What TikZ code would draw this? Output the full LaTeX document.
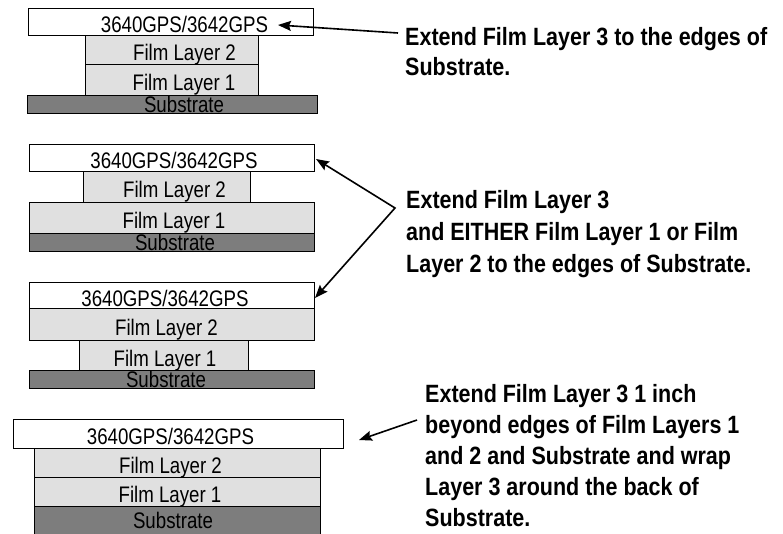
\documentclass[tikz,border=0pt]{standalone}
\usepackage{fontspec}
\usetikzlibrary{arrows.meta}
\newfontfamily\boxfont{Liberation Sans}[FakeStretch=0.83]
\newfontfamily\notefont{Liberation Sans}[FakeStretch=0.86]
\definecolor{subgray}{RGB}{125,125,125}
\definecolor{filmgray}{RGB}{224,224,224}
\tikzset{
  x=1pt, y=-1pt,
  layer/.style={draw=black, line width=0.8pt, inner sep=0pt, outer sep=0pt,
    font=\boxfont\fontsize{22.5}{22.5}\selectfont, text height=22pt, text depth=0pt},
  topbox/.style={layer, fill=white},
  film/.style={layer, fill=filmgray},
  sub/.style={layer, fill=subgray, text height=16pt},
  note/.style={anchor=north west, inner sep=0pt, align=left, font=\notefont\bfseries\fontsize{25}{31}\selectfont},
  arr/.style={line width=1.6pt, -{Stealth[length=13pt, width=10pt, inset=2pt]}},
  darr/.style={line width=1.6pt, {Stealth[length=13pt, width=10pt, inset=2pt]}-{Stealth[length=13pt, width=10pt, inset=2pt]}}
}
% rectangle node from corners: \lay{style}{name}{x1}{y1}{x2}{y2}{text shift}{text}
\newcommand{\lay}[8]{%
  \node[#1, minimum width={#5-#3}, minimum height={#6-#4}] (#2) at ({(#3+#5)/2},{(#4+#6)/2}) {\hspace*{#7pt}\hspace*{#7pt}#8};}
\begin{document}
\begin{tikzpicture}
\useasboundingbox (0,0) rectangle (783,533);
% stack 1
\lay{topbox}{t1}{28}{8}{313}{35}{14}{3640GPS/3642GPS}
\lay{film}{fb1}{85}{35}{258}{64}{13}{Film Layer 2}
\lay{film}{fa1}{85}{64}{258}{95}{12.5}{Film Layer 1}
\lay{sub}{s1}{27}{95}{317}{113}{12}{Substrate}
% stack 2
\lay{topbox}{t2}{29}{144}{314}{171}{2.5}{3640GPS/3642GPS}
\lay{film}{fb2}{83}{171}{250}{202}{8}{Film Layer 2}
\lay{film}{fa2}{29}{202}{314}{233}{2.5}{Film Layer 1}
\lay{sub}{s2}{29}{233}{314}{251}{3.5}{Substrate}
% stack 3
\lay{topbox}{t3}{29}{282}{314}{308}{-6.5}{3640GPS/3642GPS}
\lay{film}{fb3}{29}{308}{314}{340}{-5}{Film Layer 2}
\lay{film}{fa3}{79}{340}{248}{370}{1.5}{Film Layer 1}
\lay{sub}{s3}{29}{370}{314}{388}{-5.5}{Substrate}
% stack 4
\lay{topbox}{t4}{13}{419}{343}{448}{-7.5}{3640GPS/3642GPS}
\lay{film}{fb4}{34}{448}{320}{477}{-6.5}{Film Layer 2}
\lay{film}{fa4}{34}{477}{320}{506}{-7}{Film Layer 1}
\lay{sub}{s4}{34}{506}{320}{535}{-4}{Substrate}
% notes
\node[note, font=\notefont\bfseries\fontsize{25}{30}\selectfont] (n1) at (405,27)
  {Extend Film Layer 3 to the edges of\\Substrate.};
\node[note, font=\notefont\bfseries\fontsize{25}{32}\selectfont] (n2) at (406,190)
  {Extend Film Layer 3\\and EITHER Film Layer 1 or Film\\Layer 2 to the edges of Substrate.};
\node[note] (n3) at (425,384)
  {Extend Film Layer 3 1 inch\\beyond edges of Film Layers 1\\and 2 and Substrate and wrap\\Layer 3 around the back of\\Substrate.};
% arrows
\coordinate (a1s) at (398,33);
\coordinate (a1e) at (278,25);
\draw[arr] (a1s) -- (a1e);
\coordinate (a2m) at (395,208);
\coordinate (a2a) at (316,159);
\coordinate (a2b) at (315,298);
\draw[darr] (a2a) -- (a2m) -- (a2b);
\coordinate (a4s) at (417,420);
\coordinate (a4e) at (359,440);
\draw[arr] (a4s) -- (a4e);
\end{tikzpicture}
\end{document}
